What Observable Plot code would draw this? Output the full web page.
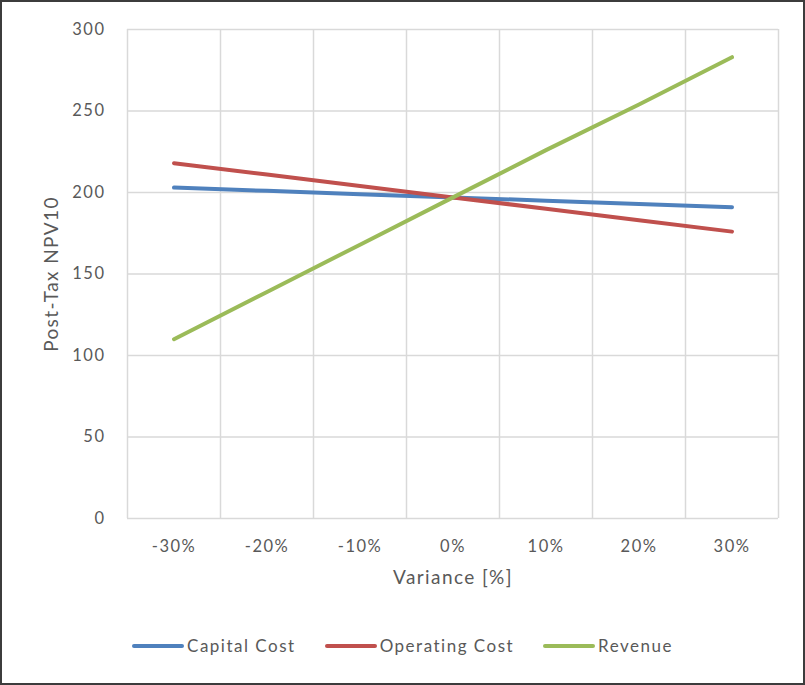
<!DOCTYPE html>
<html>
<head>
<meta charset="utf-8">
<script src="https://cdn.jsdelivr.net/npm/d3@7"></script>
<script src="https://cdn.jsdelivr.net/npm/@observablehq/plot@0.6"></script>
<style>
  html, body { margin: 0; padding: 0; background: #fff; }
  #chart { position: relative; width: 805px; height: 685px; overflow: hidden; font-family: Lato, "Open Sans", sans-serif; }
  #chart svg { position: absolute; left: 0; top: 0; }
  #chart svg g[aria-label="x-axis tick label"] text,
  #chart svg g[aria-label="y-axis tick label"] text { letter-spacing: 1.5px; }
  #chart svg g[aria-label="text"] text { letter-spacing: 1.4px; }
  #frame { position: absolute; left: 0; top: 0; width: 805px; height: 685px; box-sizing: border-box; border: 2px solid #3c3c3c; pointer-events: none; }
  #legend { position: absolute; left: 0; top: 635px; width: 805px; display: flex; justify-content: center; gap: 29px; font-size: 17px; letter-spacing: 1.5px; color: #595959; }
  .item { display: flex; align-items: center; }
  .swatch { width: 52px; height: 4px; margin-right: 3px; border-radius: 2px; }
</style>
</head>
<body>
<div id="chart">
  <div id="frame"></div>
  <div id="legend"></div>
</div>
<script>
// Sensitivity of post-tax NPV10 to variance in each input
const variance = [-30, -20, -10, 0, 10, 20, 30];
const capitalCost = [203, 201, 199, 197, 195, 193, 191];
const operatingCost = [218, 211, 204, 197, 190, 183, 176];
const revenue = [110, 139, 168, 197, 226, 254, 283];

const seriesNames = ["Capital Cost", "Operating Cost", "Revenue"];
const seriesColors = ["#4F81BD", "#C0504D", "#9BBB59"];
const yTicks = [0, 50, 100, 150, 200, 250, 300];
const xBoundaries = [-35, -25, -15, -5, 5, 15, 25, 35];

const rows = [];
[capitalCost, operatingCost, revenue].forEach((vals, i) => {
  vals.forEach((v, j) => rows.push({series: seriesNames[i], x: variance[j], y: v}));
});

const textColor = "#595959";
const gridColor = "#d9d9d9";

const plot = Plot.plot({
  width: 805,
  height: 605,
  marginLeft: 127,
  marginRight: 27,
  marginTop: 29,
  marginBottom: 87,
  style: {fontFamily: "Lato, 'Open Sans', sans-serif", fontSize: "16px", color: textColor, background: "transparent"},
  x: {domain: [-35, 35], label: null},
  y: {domain: [0, 300], label: null},
  color: {domain: seriesNames, range: seriesColors},
  marks: [
    Plot.ruleY(yTicks, {stroke: gridColor, strokeWidth: 1.5}),
    Plot.ruleX(xBoundaries, {stroke: gridColor, strokeWidth: 1.5}),
    Plot.axisY(yTicks, {tickSize: 0, tickPadding: 22, fill: textColor, fontSize: 16.5, label: null}),
    Plot.axisX(variance, {tickSize: 0, tickPadding: 22, fill: textColor, fontSize: 16.5, label: null, tickFormat: d => d + "%"}),
    Plot.text(["Post-Tax NPV10"], {frameAnchor: "left", textAnchor: "middle", dx: -76, rotate: -90, fill: textColor, fontSize: 19}),
    Plot.text(["Variance [%]"], {frameAnchor: "bottom", dy: 65, fill: textColor, fontSize: 19}),
    Plot.line(rows, {x: "x", y: "y", z: "series", stroke: "series", strokeWidth: 4, strokeLinecap: "round"})
  ]
});
document.getElementById("chart").insertBefore(plot, document.getElementById("frame"));

const legend = document.getElementById("legend");
seriesNames.forEach((name, i) => {
  const item = document.createElement("div");
  item.className = "item";
  const sw = document.createElement("span");
  sw.className = "swatch";
  sw.style.background = seriesColors[i];
  const label = document.createElement("span");
  label.textContent = name;
  item.appendChild(sw);
  item.appendChild(label);
  legend.appendChild(item);
});
</script>
</body>
</html>
